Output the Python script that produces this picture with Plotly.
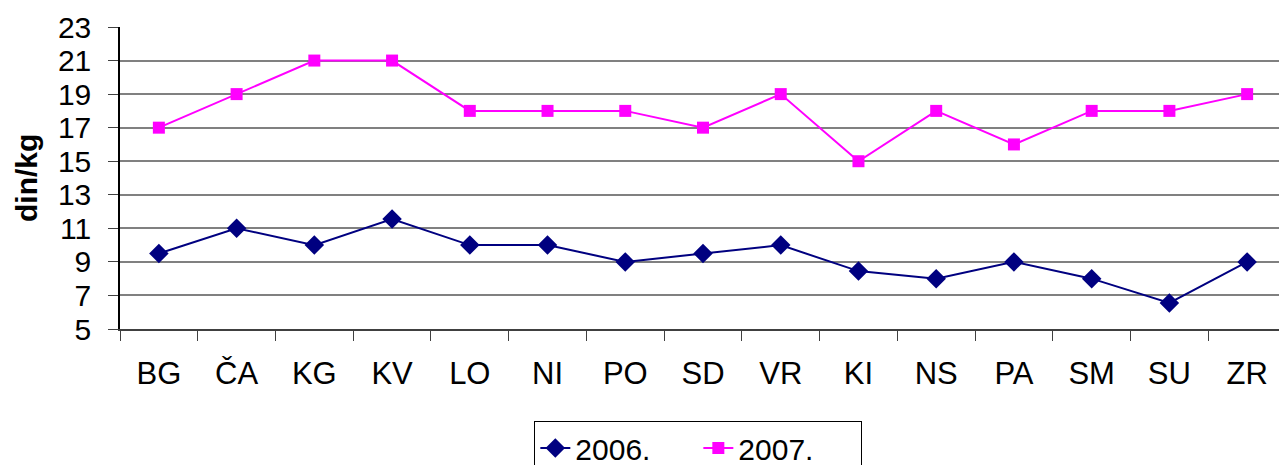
import plotly.graph_objects as go

categories = ["BG", "ČA", "KG", "KV", "LO", "NI", "PO", "SD", "VR", "KI", "NS", "PA", "SM", "SU", "ZR"]
values_2006 = [9.5, 11, 10, 11.55, 10, 10, 9, 9.5, 10, 8.45, 8, 9, 8, 6.55, 9]
values_2007 = [17, 19, 21, 21, 18, 18, 18, 17, 19, 15, 18, 16, 18, 18, 19]
y_ticks = [5, 7, 9, 11, 13, 15, 17, 19, 21, 23]

font_family = "Liberation Sans, Arial, sans-serif"

fig = go.Figure()
fig.add_trace(go.Scatter(
    x=categories, y=values_2006, name="2006.", mode="lines+markers",
    line=dict(color="#000080", width=2),
    marker=dict(symbol="diamond", size=15, color="#000080"),
))
fig.add_trace(go.Scatter(
    x=categories, y=values_2007, name="2007.", mode="lines+markers",
    line=dict(color="#FF00FF", width=2),
    marker=dict(symbol="square", size=12, color="#FF00FF"),
))

# page body has an 8px default margin, so the figure is 8px smaller
fig.update_layout(
    width=1279, height=457,
    margin=dict(l=112, r=1, t=19, b=136, autoexpand=False),
    paper_bgcolor="white", plot_bgcolor="white",
    font=dict(family=font_family, size=30, color="black"),
    showlegend=True,
    legend=dict(
        orientation="h", x=0.496, xanchor="center", y=-0.305, yanchor="top",
        bordercolor="black", borderwidth=1, font=dict(size=30),
        entrywidth=118, tracegroupgap=0,
    ),
    xaxis=dict(
        type="category", range=[-0.5, 14.5],
        showline=True, linecolor="#404040", linewidth=2,
        ticks="outside", tickson="boundaries", ticklen=10, tickcolor="#404040",
        showgrid=False, mirror=False, automargin=False,
        tickfont=dict(size=31), ticklabelstandoff=16,
    ),
    yaxis=dict(
        range=[5, 23], tickvals=y_ticks,
        showline=True, linecolor="black", linewidth=1.5,
        ticks="outside", ticklen=10, tickcolor="#404040",
        showgrid=True, gridcolor="#808080", gridwidth=1.5,
        zeroline=False, tickfont=dict(size=30), automargin=False,
        ticklabelstandoff=11,
    ),
    annotations=[dict(
        text="<b>din/kg</b>", textangle=-90, xref="paper", yref="paper",
        x=0, y=0.5, xanchor="center", yanchor="middle", xshift=-94,
        showarrow=False, font=dict(size=30),
    )],
    shapes=[dict(type="line", xref="paper", yref="paper", x0=1, x1=1, y0=0, y1=1,
                 line=dict(color="#808080", width=2))],
)

fig.write_html("out.html")
